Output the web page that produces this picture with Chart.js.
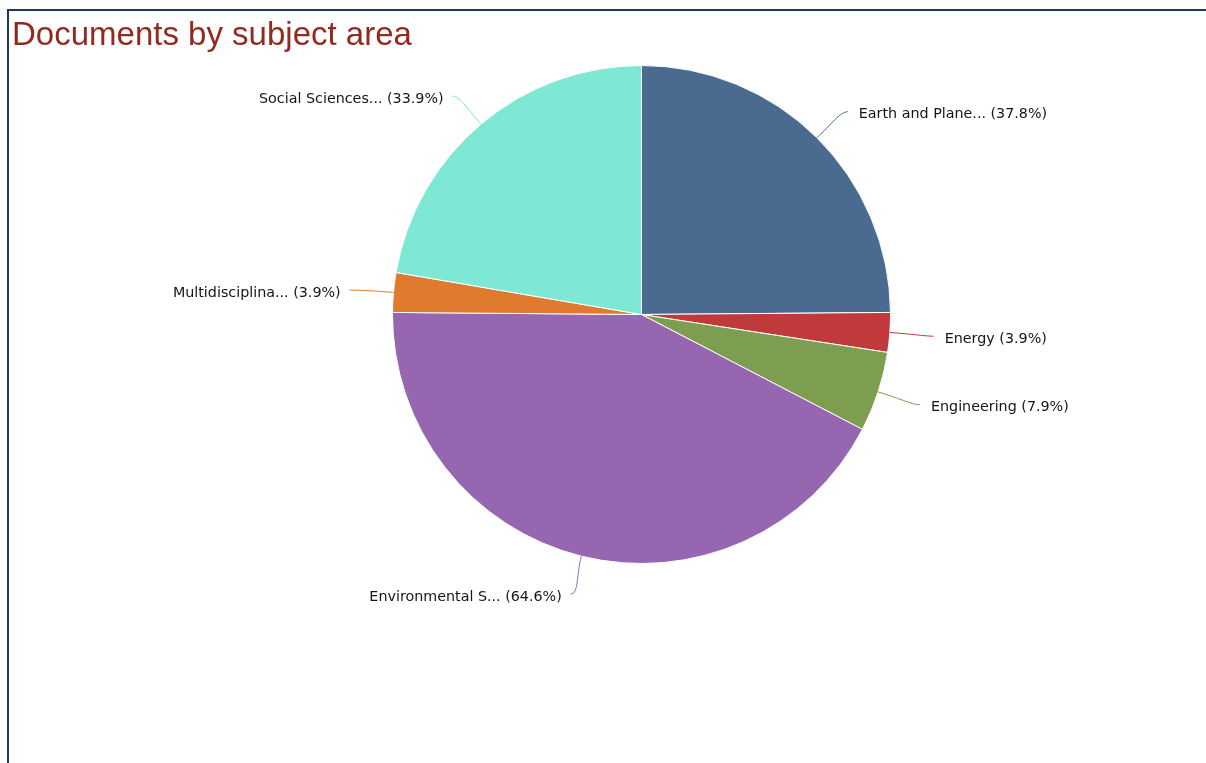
<!DOCTYPE html>
<html>
<head>
<meta charset="utf-8">
<script src="https://cdn.jsdelivr.net/npm/chart.js@4/dist/chart.umd.min.js"></script>
<style>
  html, body { margin: 0; padding: 0; background: #fff; overflow: hidden; }
  #wrap { position: relative; width: 1206px; height: 763px; }
  #frame { position: absolute; left: 7px; top: 9px; width: 1220px; height: 800px;
           border-left: 2px solid #22375c; border-top: 2px solid #22375c; }
  canvas { position: absolute; left: 0; top: 0; }
</style>
</head>
<body>
<div id="wrap">
  <div id="frame"></div>
  <canvas id="c" width="1206" height="763"></canvas>
</div>
<script>
const titleText = "Documents by subject area";
const categories = ["Earth and Plane...", "Energy", "Engineering", "Environmental S...", "Multidisciplina...", "Social Sciences..."];
const percentValues = [37.8, 3.9, 7.9, 64.6, 3.9, 33.9];
const sliceColors = ["#4a6b8f", "#c0393b", "#7d9e50", "#9666b0", "#e07a2e", "#7ee8d5"];

const outsideLabels = {
  id: 'outsideLabels',
  afterDatasetsDraw(chart) {
    const ctx = chart.ctx;
    const meta = chart.getDatasetMeta(0);
    ctx.save();
    meta.data.forEach((arc, i) => {
      const p = arc.getProps(['x', 'y', 'startAngle', 'endAngle', 'outerRadius'], true);
      const mid = (p.startAngle + p.endAngle) / 2;
      const c = Math.cos(mid), s = Math.sin(mid);
      const r = p.outerRadius;
      const x0 = p.x + r * c, y0 = p.y + r * s;
      const x1 = p.x + (r + 20) * c, y1 = p.y + (r + 18) * s;
      const xe = p.x + (r + 44) * c, ye = p.y + (r + 38) * s + 1;
      const right = c >= 0;
      const dir = right ? 1 : -1;
      ctx.beginPath();
      ctx.moveTo(x0, y0);
      ctx.bezierCurveTo(x1, y1, xe - dir * 8, ye, xe, ye);
      ctx.strokeStyle = sliceColors[i];
      ctx.lineWidth = 1;
      ctx.stroke();
      ctx.font = '14.3px "DejaVu Sans"';
      ctx.fillStyle = '#151515';
      ctx.textBaseline = 'middle';
      ctx.textAlign = right ? 'left' : 'right';
      ctx.fillText(categories[i] + ' (' + percentValues[i] + '%)', xe + dir * (right ? 11 : 9), ye + 3);
    });
    ctx.font = '33px "Liberation Sans", Arial, sans-serif';
    ctx.fillStyle = '#912b20';
    ctx.textAlign = 'left';
    ctx.textBaseline = 'alphabetic';
    ctx.fillText(titleText, 12, 45);
    ctx.restore();
  }
};

new Chart(document.getElementById('c'), {
  type: 'pie',
  data: {
    labels: categories,
    datasets: [{
      data: percentValues,
      backgroundColor: sliceColors,
      borderColor: '#ffffff',
      borderWidth: 1
    }]
  },
  options: {
    responsive: false,
    animation: false,
    layout: { padding: { left: 299, right: 222, top: 65, bottom: 199 } },
    plugins: {
      legend: { display: false },
      tooltip: { enabled: false },
      title: { display: false }
    }
  },
  plugins: [outsideLabels]
});
</script>
</body>
</html>
